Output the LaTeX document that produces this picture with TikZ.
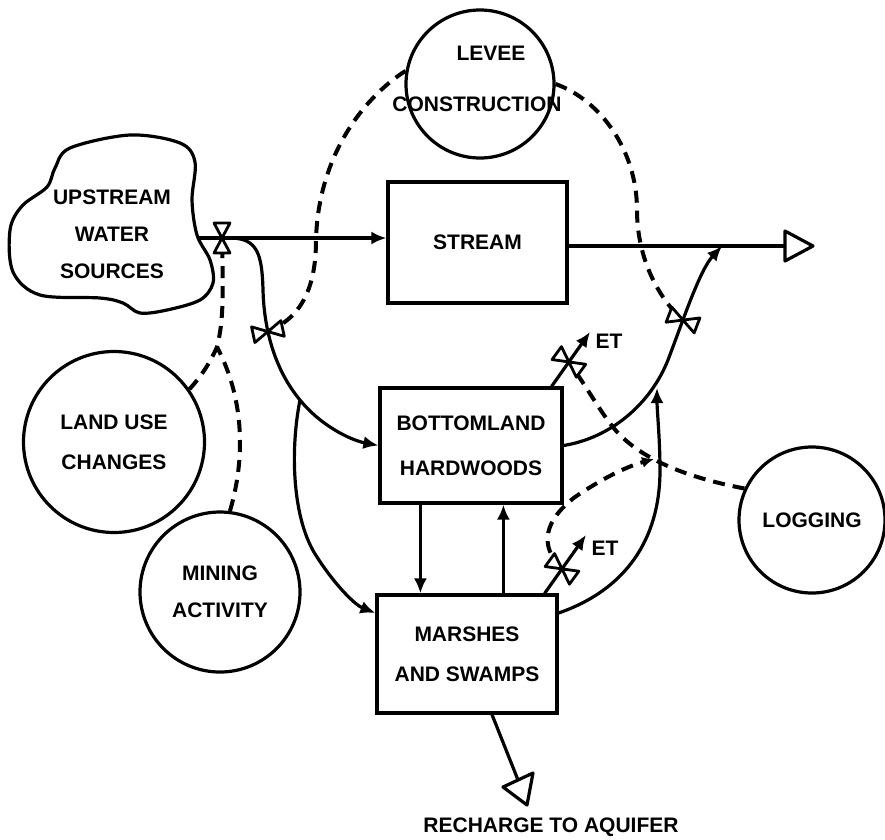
\documentclass[tikz,border=0pt]{standalone}
\usepackage{fontspec}
\setmainfont{Liberation Sans}
\usetikzlibrary{arrows.meta}
\begin{document}
\begin{tikzpicture}[x=1pt,y=-1pt,
  every node/.style={font=\fontsize{21}{25}\bfseries\selectfont, inner sep=0pt, align=center},
  stockbox/.style={draw, line width=3.2pt, inner sep=0pt},
  auxcirc/.style={draw, circle, line width=3.2pt, inner sep=0pt},
  flowline/.style={line width=3.2pt, line join=round},
  infoline/.style={line width=4pt, dash pattern=on 12pt off 8pt},
  arr/.style={-{Latex[length=15pt,width=13pt]}},
  smallarr/.style={-{Latex[length=12pt,width=11pt]}},
  valve/.pic={
    \draw[line width=2.8pt, line join=round, fill=white] (0,0) -- (-8,-15) -- (8,-15) -- cycle;
    \draw[line width=2.8pt, line join=round, fill=white] (0,0) -- (-8,15) -- (8,15) -- cycle;
  }
]
\useasboundingbox (0,0) rectangle (885,839);

% ---- source cloud
\draw[line width=3.2pt] plot[smooth cycle, tension=0.55] coordinates {(130,135) (180,143) (195,162) (192,200) (197,235) (210,260) (213,283) (200,300) (167,310) (140,313) (123,303) (100,298) (40,295) (13,272) (10,230) (22,206) (47,187) (55,168) (70,148)};
\node[font=\fontsize{21}{37}\bfseries\selectfont] (src) at (112,234) {UPSTREAM\\WATER\\SOURCES};

% ---- stocks
\node[stockbox, minimum width=179pt, minimum height=121pt] (stream) at (477.5,242.5) {STREAM};
\node[stockbox, minimum width=182pt, minimum height=115pt, font=\fontsize{21}{45}\bfseries\selectfont] (bh) at (471,445.5) {BOTTOMLAND\\HARDWOODS};
\node[stockbox, minimum width=180pt, minimum height=118pt, font=\fontsize{21}{40}\bfseries\selectfont] (ms) at (467,654) {MARSHES\\AND SWAMPS};

% ---- auxiliaries
\node[auxcirc, minimum size=148pt] (levee) at (480,84) {};
\node (leveeA) at (491,53) {LEVEE};
\node (leveeB) at (477,104) {CONSTRUCTION};
\node[auxcirc, minimum size=181pt, font=\fontsize{21}{40}\bfseries\selectfont] (landuse) at (114,442) {LAND USE\\CHANGES};
\node[auxcirc, minimum size=160pt, font=\fontsize{21}{37}\bfseries\selectfont] (mining) at (220,592) {MINING\\ACTIVITY};
\node[auxcirc, minimum size=146pt] (logging) at (812,520) {LOGGING};

\node (et1) at (609,341) {ET};
\node (et2) at (605,548) {ET};
\node (rech) at (551,827) {RECHARGE TO AQUIFER};

% ---- coordinates
\coordinate (cloudR) at (197,238);
\coordinate (vA) at (222,238);
\coordinate (j1) at (230,238);
\coordinate (j2) at (300,400);
\coordinate (sinkR) at (785,246);
\coordinate (mergeR) at (722,246);
\coordinate (etA) at (590,332);
\coordinate (etB) at (586,535);
\coordinate (jL) at (217,347);
\coordinate (jG) at (654,459);
\coordinate (sinkB) at (518,780);
\coordinate (sb1) at (503,787);
\coordinate (sb2) at (533,773);
\coordinate (sb3) at (527,805);

% ---- flows
\draw[flowline, arr] (cloudR) -- (vA) -- (vA -| stream.west);
\draw[flowline] (sinkR -| stream.east) -- (sinkR);
\draw[flowline] (sinkR) -- ++(0,-15) -- ++(28,15) -- ++(-28,15) -- cycle;

\draw[flowline, arr] (j1) .. controls (258,238) and (262,255) .. (263,290)
   .. controls (264,330) and (275,370) .. (j2) coordinate[pos=0.35] (vB)
   .. controls (320,425) and (350,440) .. (bh.west);
\draw[flowline, arr] (j2) .. controls (290,450) and (292,520) .. (317,557)
   .. controls (335,585) and (355,605) .. ([yshift=41pt]ms.west);

\draw[flowline, arr] (bh.east) .. controls (610,438) and (650,405) .. (668,360)
   .. controls (685,315) and (700,270) .. (mergeR) coordinate[pos=0.3] (vR);
\draw[flowline, arr] ([yshift=41pt]ms.east) .. controls (625,590) and (660,540) .. (660,470)
   .. controls (660,440) and (657,410) .. (657,388);

\draw[flowline, arr] ([xshift=-12pt]bh.north east) -- (etA) coordinate[pos=0.45] (vE1);
\draw[flowline, arr] ([xshift=-14pt]ms.north east) -- (etB) coordinate[pos=0.42] (vE2);

\draw[flowline, arr] ([xshift=42pt]bh.south west) -- ([xshift=45pt]ms.north west);
\draw[flowline, arr] ([xshift=128pt]ms.north west) -- ([xshift=125pt]bh.south west);

\draw[flowline] ([xshift=25pt]ms.south) -- (sinkB);
\draw[flowline] (sb1) -- (sb2) -- (sb3) -- cycle;

% ---- information links
\draw[infoline] (levee.170) .. controls (360,100) and (318,160) .. (316,240)
   .. controls (316,290) and (300,318) .. (vB);
\draw[infoline] (levee.0) .. controls (600,100) and (637,150) .. (637,210)
   .. controls (637,260) and (660,300) .. (vR);
\draw[infoline] (landuse.35) .. controls (205,372) and (212,358) .. (jL)
   .. controls (224,320) and (223,290) .. (vA);
\draw[infoline] (mining.83) .. controls (245,460) and (245,400) .. (jL);
\draw[infoline] (logging.155) .. controls (700,480) and (650,465) .. (620,435)
   .. controls (605,420) and (592,395) .. (vE1);
\draw[infoline, smallarr] (vE2) .. controls (538,545) and (545,520) .. (575,497)
   .. controls (600,480) and (625,467) .. (jG);

% ---- valves
\pic[rotate=0] at (vA) {valve};
\pic[rotate=-78] at (vB) {valve};
\pic[rotate=69] at (vR) {valve};
\pic[rotate=54] at (vE1) {valve};
\pic[rotate=54] at (vE2) {valve};
\end{tikzpicture}
\end{document}
